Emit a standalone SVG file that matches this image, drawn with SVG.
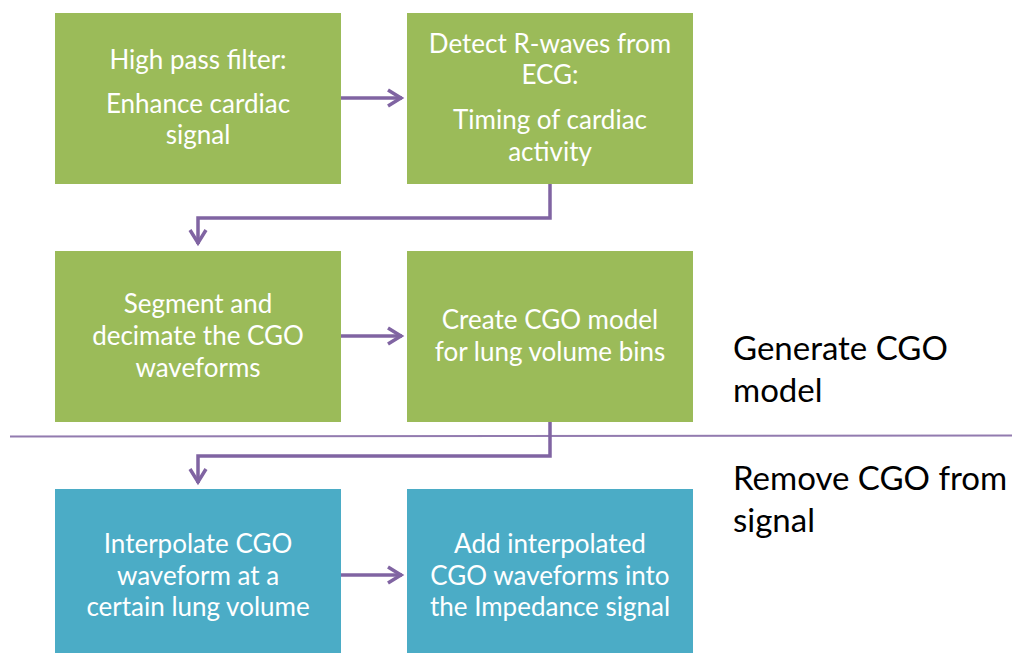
<svg xmlns="http://www.w3.org/2000/svg" width="1012" height="653" viewBox="0 0 1012 653">
  <style>
    .green { fill: #9BBB59; }
    .blue { fill: #4BACC6; }
    .lbl { font-family: Lato, "Open Sans", sans-serif; font-size: 26px; fill: #FFFFFF; text-anchor: middle; }
    .side { font-family: Lato, "Open Sans", sans-serif; font-size: 33px; fill: #000000; }
    .conn { fill: none; stroke: #8064A2; stroke-width: 3.5; }
  </style>
  <defs>
    <marker id="chev" viewBox="0 0 20 20" refX="17" refY="10" markerWidth="20" markerHeight="20" markerUnits="userSpaceOnUse" orient="auto">
      <path d="M3,2 L16,10 L3,18" fill="none" stroke="#8064A2" stroke-width="3.5"/>
    </marker>
  </defs>
  <rect width="1012" height="653" fill="#FFFFFF"/>

  <!-- divider between the two stages -->
  <line x1="10" y1="436.5" x2="1012" y2="435.5" stroke="#8064A2" stroke-width="2" opacity="0.85"/>

  <g id="connectors">
    <line class="conn" x1="341" y1="98" x2="402" y2="98" marker-end="url(#chev)"/>
    <polyline class="conn" points="550,184 550,218 198,218 198,244" marker-end="url(#chev)"/>
    <line class="conn" x1="341" y1="336" x2="402" y2="336" marker-end="url(#chev)"/>
    <polyline class="conn" points="550,422 550,456 198,456 198,483" marker-end="url(#chev)"/>
    <line class="conn" x1="341" y1="575" x2="402" y2="575" marker-end="url(#chev)"/>
  </g>

  <g id="high-pass">
    <rect class="green" x="55" y="13" width="286" height="171"/>
    <text class="lbl" x="198" y="69">High pass filter:</text>
    <text class="lbl" x="198" y="113">Enhance cardiac</text>
    <text class="lbl" x="198" y="144">signal</text>
  </g>
  <g id="detect-r">
    <rect class="green" x="407" y="13" width="286" height="171"/>
    <text class="lbl" x="550" y="53">Detect R-waves from</text>
    <text class="lbl" x="550" y="84">ECG:</text>
    <text class="lbl" x="550" y="129">Timing of cardiac</text>
    <text class="lbl" x="550" y="161">activity</text>
  </g>
  <g id="segment">
    <rect class="green" x="55" y="251" width="286" height="171"/>
    <text class="lbl" x="198" y="313">Segment and</text>
    <text class="lbl" x="198" y="345">decimate the CGO</text>
    <text class="lbl" x="198" y="377">waveforms</text>
  </g>
  <g id="create-model">
    <rect class="green" x="407" y="251" width="286" height="171"/>
    <text class="lbl" x="550" y="329">Create CGO model</text>
    <text class="lbl" x="550" y="361">for lung volume bins</text>
  </g>
  <g id="interpolate">
    <rect class="blue" x="55" y="489" width="286" height="164"/>
    <text class="lbl" x="198" y="553">Interpolate CGO</text>
    <text class="lbl" x="198" y="585">waveform at a</text>
    <text class="lbl" x="198" y="616">certain lung volume</text>
  </g>
  <g id="add-interp">
    <rect class="blue" x="407" y="489" width="286" height="164"/>
    <text class="lbl" x="550" y="553">Add interpolated</text>
    <text class="lbl" x="550" y="585">CGO waveforms into</text>
    <text class="lbl" x="550" y="616">the Impedance signal</text>
  </g>

  <g id="stage-generate">
    <text class="side" x="733" y="360">Generate CGO</text>
    <text class="side" x="733" y="402">model</text>
  </g>
  <g id="stage-remove">
    <text class="side" x="733" y="490">Remove CGO from</text>
    <text class="side" x="733" y="532">signal</text>
  </g>
</svg>
